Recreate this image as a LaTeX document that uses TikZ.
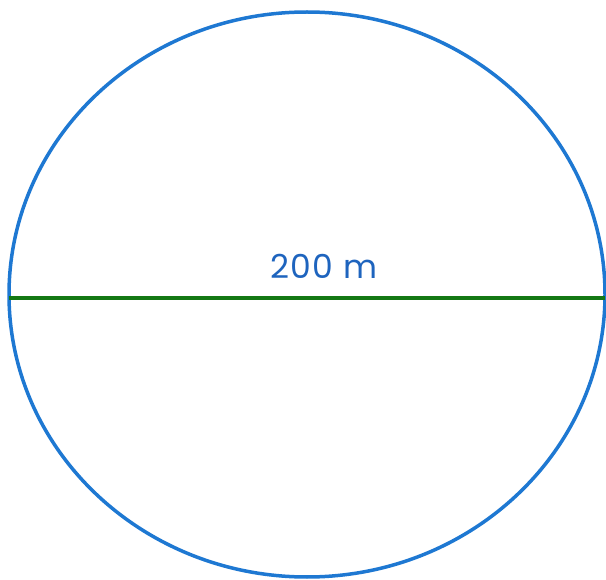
\documentclass[tikz,border=0pt]{standalone}
\usepackage{fontspec}
\setmainfont{Poppins}
\definecolor{circblue}{RGB}{30,120,210}
\definecolor{txtblue}{RGB}{30,100,190}
\definecolor{lgreen}{RGB}{20,120,20}
\begin{document}
\begin{tikzpicture}[x=1pt,y=-1pt,
  rim/.style={draw=circblue,line width=3.5pt},
  diam/.style={draw=lgreen,line width=3.5pt},
  lbl/.style={text=txtblue,font=\fontsize{33}{33}\selectfont,inner sep=0pt,anchor=base}]
\useasboundingbox (0,0) rectangle (606,580);
\draw[rim] (307,294.5) ellipse [x radius=298,y radius=282.5];
\coordinate (L) at (9,298);
\coordinate (R) at (605,298);
\draw[diam] (L) -- (R);
\node[lbl] (t) at (324,278.5) {2\kern1pt{}0\kern1pt{}0\kern1pt{} m};
\end{tikzpicture}
\end{document}
